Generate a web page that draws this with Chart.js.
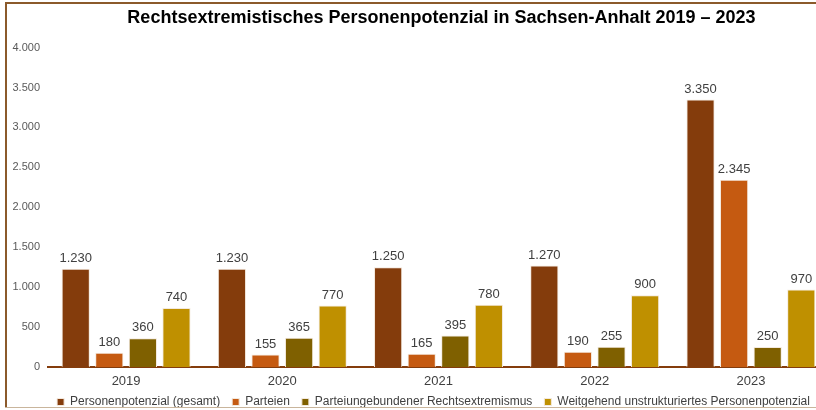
<!DOCTYPE html>
<html lang="de">
<head>
<meta charset="utf-8">
<script src="https://cdn.jsdelivr.net/npm/chart.js@4/dist/chart.umd.min.js"></script>
<style>
  html, body { margin: 0; padding: 0; background: #fff; overflow: hidden; }
  body { width: 816px; height: 410px; position: relative; }
  #frameLeft { position: absolute; left: 5px; top: 2px; width: 2px; height: 406px; background: #8B5A2B; z-index: 2; }
  #frameTop { position: absolute; left: 5px; top: 2px; width: 900px; height: 2px; background: #8B5A2B; z-index: 2; }
  #frameBottom { position: absolute; left: 5px; top: 407px; width: 900px; height: 1px; background: #C9B59C; z-index: 2; }
  #wrap { position: absolute; left: 8px; top: 5px; width: 856px; height: 419px; }
</style>
</head>
<body>
<div id="frameLeft"></div>
<div id="frameTop"></div>
<div id="frameBottom"></div>
<div id="wrap"><canvas id="chart"></canvas></div>
<script>
// Daten
const years = ['2019', '2020', '2021', '2022', '2023'];
const gesamt = [1230, 1230, 1250, 1270, 3350];
const parteien = [180, 155, 165, 190, 2345];
const parteiungebunden = [360, 365, 395, 255, 250];
const unstrukturiert = [740, 770, 780, 900, 970];
const seriesNames = [
  'Personenpotenzial (gesamt)',
  'Parteien',
  'Parteiungebundener Rechtsextremismus',
  'Weitgehend unstrukturiertes Personenpotenzial',
];
const yTicks = [0, 500, 1000, 1500, 2000, 2500, 3000, 3500, 4000];

const colors = ['#843C0C', '#C55A11', '#7F6000', '#BF9000'];
const FONT = '"Liberation Sans", Arial, sans-serif';

// 1230 -> "1.230"
function fmt(v) {
  return String(v).replace(/\B(?=(\d{3})+(?!\d))/g, '.');
}

const valueLabels = {
  id: 'valueLabels',
  afterDatasetsDraw(chart) {
    const ctx = chart.ctx;
    ctx.save();
    ctx.font = '13px ' + FONT;
    ctx.fillStyle = '#404040';
    ctx.textAlign = 'center';
    ctx.textBaseline = 'bottom';
    chart.data.datasets.forEach((ds, i) => {
      chart.getDatasetMeta(i).data.forEach((bar, j) => {
        ctx.fillText(fmt(ds.data[j]), bar.x, bar.y - 4);
      });
    });
    ctx.restore();
  },
};

// Titel und Legende etwas nach rechts (wie im Original), Legende näher an die Achse
const nudge = {
  id: 'nudge',
  afterLayout(chart) {
    const t = chart.titleBlock;
    t.left += 23; t.right += 23;
    const l = chart.legend;
    l.left += 15; l.right += 15;
    l.top -= 6; l.bottom -= 6;
  },
};

const allData = [gesamt, parteien, parteiungebunden, unstrukturiert];

new Chart(document.getElementById('chart'), {
  type: 'bar',
  data: {
    labels: years,
    datasets: allData.map((d, i) => ({
      label: seriesNames[i],
      data: d,
      backgroundColor: colors[i],
      borderColor: '#F3E9DE',
      borderWidth: 1,
      categoryPercentage: 0.86,
      barPercentage: 0.84,
    })),
  },
  options: {
    responsive: true,
    maintainAspectRatio: false,
    animation: false,
    layout: { padding: { left: 0, right: 35, top: 0, bottom: 0 } },
    plugins: {
      title: {
        display: true,
        text: 'Rechtsextremistisches Personenpotenzial in Sachsen-Anhalt 2019 – 2023',
        color: '#000',
        font: { family: FONT, size: 18, weight: 'bold' },
        padding: { top: 2, bottom: 19 },
      },
      legend: {
        position: 'bottom',
        labels: {
          color: '#404040',
          font: { family: FONT, size: 12 },
          boxWidth: 7,
          boxHeight: 7,
          padding: 12,
        },
      },
      tooltip: { enabled: false },
    },
    scales: {
      x: {
        afterFit(axis) { axis.height = 23; },
        grid: { display: false, drawTicks: false },
        border: { display: true, color: '#843C0C', width: 2 },
        ticks: {
          color: '#404040',
          font: { family: FONT, size: 13 },
          padding: 7,
        },
      },
      y: {
        min: 0,
        max: 4000,
        afterBuildTicks(axis) { axis.ticks = yTicks.map((v) => ({ value: v })); },
        afterFit(axis) { axis.width = 40; },
        grid: { display: false, drawTicks: false },
        border: { display: false },
        ticks: {
          color: '#595959',
          font: { family: FONT, size: 11 },
          padding: 8,
          callback: (v) => fmt(v),
        },
      },
    },
  },
  plugins: [valueLabels, nudge],
});
</script>
</body>
</html>
